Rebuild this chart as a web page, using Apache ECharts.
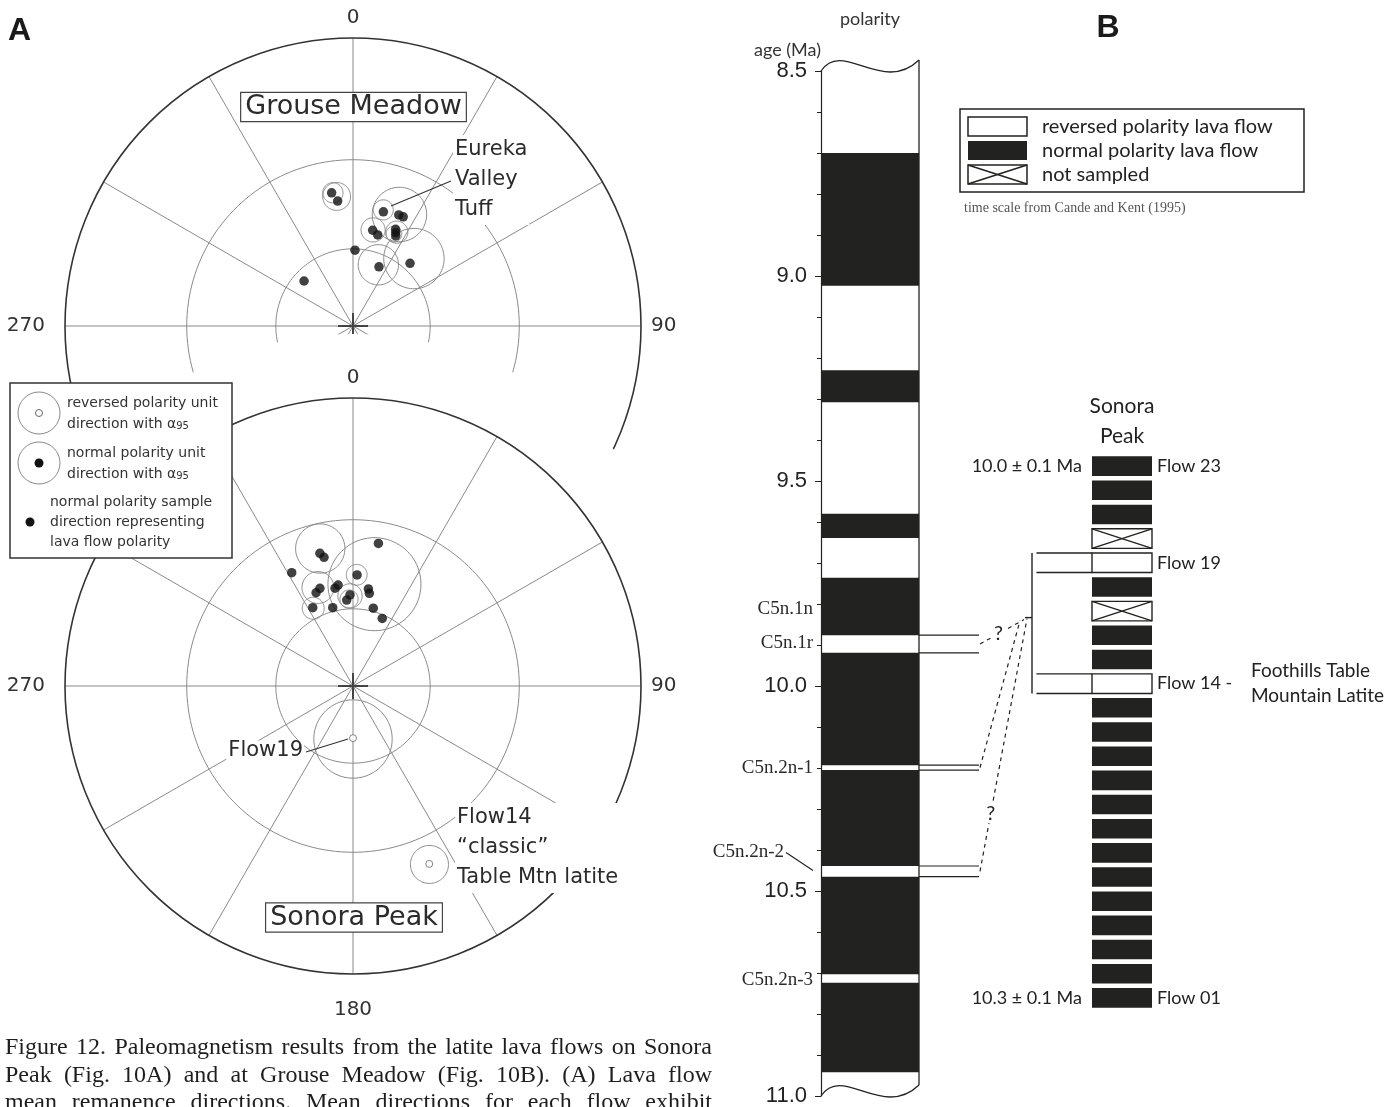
<!DOCTYPE html>
<html>
<head>
<meta charset="utf-8">
<title>Figure 12 – Paleomagnetism of latite lava flows</title>
<script src="https://cdn.jsdelivr.net/npm/echarts@6/dist/echarts.min.js"></script>
<style>
  html, body { margin: 0; padding: 0; background: #fff; }
  #main { width: 1397px; height: 1107px; }
</style>
</head>
<body>
<div id="main"></div>
<script>
// ---------------------------------------------------------------------------
// Panel A – remanence directions, [declination, inclination] in degrees
// (negative inclination = upper hemisphere / reversed polarity)
// ---------------------------------------------------------------------------
const GROUSE_DOTS = [
  [350.9, 39.8], [353.0, 42.8], [14.9, 45.4], [22.4, 44.7], [24.7, 44.7],
  [11.6, 52.5], [15.2, 53.7], [23.8, 49.7], [24.6, 50.8], [25.4, 51.8],
  [1.5, 60.5], [23.7, 64.7], [42.3, 57.2], [312.6, 64.0]
];
// [declination, inclination, alpha95]
const GROUSE_CIRCLES = [
  [351.4, 39.9, 3.3], [352.8, 41.3, 4.6], [22.6, 44.8, 9.2], [14.6, 44.8, 3.4],
  [11.8, 52.4, 4.3], [25.0, 50.5, 3.9], [24.0, 51.5, 2.8], [22.5, 64.2, 7.6],
  [42.1, 55.3, 10.9]
];
const SONORA_DOTS = [
  [10.1, 36.6], [346.0, 39.2], [347.3, 40.8], [331.6, 41.8], [2.1, 47.8],
  [351.6, 51.0], [349.6, 51.9], [341.3, 50.6], [338.4, 51.6], [9.0, 52.3],
  [10.0, 53.8], [358.1, 54.9], [355.8, 56.7], [332.8, 56.0], [345.5, 58.6],
  [14.6, 58.8], [23.4, 61.3]
];
const SONORA_CIRCLES = [
  [346.6, 38.0, 7.9], [11.9, 51.1, 16.3], [1.9, 47.8, 3.6], [340.4, 50.2, 5.6],
  [332.9, 56.3, 4.0], [358.1, 55.3, 4.4], [357.4, 56.4, 3.3]
];
const SONORA_REVERSED_DOTS = [[180.0, -69.5], [156.8, -22.2]];
const SONORA_REVERSED_CIRCLES = [[180.0, -69.5, 15.0], [156.8, -22.2, 5.2]];
const NET_RING_INCLINATIONS = [60, 30];
const COMPASS_LABELS = { 0: '0', 90: '90', 180: '180', 270: '270' };

// ---------------------------------------------------------------------------
// Panel B – geomagnetic polarity time scale (Ma) and Sonora Peak flow stack
// ---------------------------------------------------------------------------
const AGE_TICKS = [8.5, 9.0, 9.5, 10.0, 10.5, 11.0];
const NORMAL_CHRONS = [
  [8.700, 9.024], [9.230, 9.308], [9.580, 9.639], [9.736, 9.876],
  [9.919, 10.193], [10.205, 10.439], [10.465, 10.703], [10.724, 10.942]
];
const CHRON_NAMES = ['C5n.1n', 'C5n.1r', 'C5n.2n-1', 'C5n.2n-2', 'C5n.2n-3'];
const CHRON_LABEL_AGES = [9.813, 9.894, 10.200, 10.406, 10.716];
const CHRON_LEADER_AGES = { 'C5n.2n-2': 10.450 };
const LINKED_REVERSALS = [[9.876, 9.919], [10.193, 10.205], [10.439, 10.465]];

const FLOW_NAMES = [
  'Flow 01', 'Flow 02', 'Flow 03', 'Flow 04', 'Flow 05', 'Flow 06', 'Flow 07', 'Flow 08',
  'Flow 09', 'Flow 10', 'Flow 11', 'Flow 12', 'Flow 13', 'Flow 14', 'Flow 15', 'Flow 16',
  'Flow 17', 'Flow 18', 'Flow 19', 'Flow 20', 'Flow 21', 'Flow 22', 'Flow 23'
];
// N = normal, R = reversed, X = not sampled
const FLOW_POLARITY = [
  'N', 'N', 'N', 'N', 'N', 'N', 'N', 'N', 'N', 'N', 'N', 'N', 'N',
  'R', 'N', 'N', 'X', 'N', 'R', 'X', 'N', 'N', 'N'
];
const FLOW_LABELS = { 'Flow 23': 'Flow 23', 'Flow 19': 'Flow 19', 'Flow 14': 'Flow 14 -', 'Flow 01': 'Flow 01' };
const FLOW_AGES = { 'Flow 23': '10.0 ± 0.1 Ma', 'Flow 01': '10.3 ± 0.1 Ma' };
const FLOW_NOTES = { 'Flow 14': 'Foothills Table\nMountain Latite' };

const CAPTION_LINES = [
  'Figure 12. Paleomagnetism results from the latite lava flows on Sonora',
  'Peak (Fig. 10A) and at Grouse Meadow (Fig. 10B). (A) Lava flow',
  'mean remanence directions. Mean directions for each flow exhibit'
];

// ---------------------------------------------------------------------------
// Layout and style
// ---------------------------------------------------------------------------
const NET_RADIUS = 288;
const UPPER_CENTER = [353, 326];
const LOWER_CENTER = [353, 686];
const LOWER_CLEAR_RADIUS = 352;         // white backing behind the lower net
const INK = '#222320';
const GRID_GREY = '#8a8a8a';
const SANS_A = '"DejaVu Sans", sans-serif';
const SANS_B = 'Lato, "Noto Sans", sans-serif';
const SERIF = '"Liberation Serif", "Times New Roman", serif';
const EXT = 60 / 98;                     // reversal tie-line length, in column widths
const BLOCK_FILL = 0.81;                 // block height as share of each flow slot

// ---------------------------------------------------------------------------
// Stereographic (equal-angle) projection helpers
// ---------------------------------------------------------------------------
const D2R = Math.PI / 180;
function projRadius(inc) {
  return Math.tan((90 - Math.abs(inc)) / 2 * D2R);
}
function smallCircle(dec, inc, a95, n) {
  const I = Math.abs(inc) * D2R, D = dec * D2R, a = a95 * D2R;
  const m = [Math.cos(I) * Math.cos(D), Math.cos(I) * Math.sin(D), Math.sin(I)];
  const u = [-Math.sin(D), Math.cos(D), 0];
  const v = [m[1] * u[2] - m[2] * u[1], m[2] * u[0] - m[0] * u[2], m[0] * u[1] - m[1] * u[0]];
  const pts = [];
  for (let k = 0; k <= n; k++) {
    const t = 2 * Math.PI * k / n;
    const p = [0, 1, 2].map(j => m[j] * Math.cos(a) + (u[j] * Math.cos(t) + v[j] * Math.sin(t)) * Math.sin(a));
    const pInc = Math.asin(Math.max(-1, Math.min(1, p[2]))) / D2R;
    const pDec = (Math.atan2(p[1], p[0]) / D2R + 360) % 360;
    pts.push([projRadius(pInc), pDec]);
  }
  return pts;
}

// ---------------------------------------------------------------------------
// Series builders for one stereonet
// ---------------------------------------------------------------------------
function ringSeries(polarIndex, z) {
  return NET_RING_INCLINATIONS.map(inc => {
    const r = projRadius(inc);
    const data = [];
    for (let a = 0; a <= 360; a += 2) data.push([r, a]);
    return {
      type: 'line', coordinateSystem: 'polar', polarIndex, data, z,
      symbol: 'none', silent: true, smooth: false,
      lineStyle: { color: GRID_GREY, width: 1 }
    };
  });
}
function circleSeries(polarIndex, circles, z) {
  return {
    type: 'custom', coordinateSystem: 'polar', polarIndex, z, silent: true,
    encode: { radius: 0, angle: 1 },
    data: circles.map(c => [projRadius(c[1]), c[0], c[2], c[1]]),
    renderItem(params, api) {
      const dec = api.value(1), a95 = api.value(2), inc = api.value(3);
      const pts = smallCircle(dec, inc, a95, 96).map(p => api.coord(p));
      return {
        type: 'polyline', shape: { points: pts },
        style: { stroke: GRID_GREY, fill: null, lineWidth: 1 }
      };
    }
  };
}
function dotSeries(polarIndex, dots, z, open) {
  return {
    type: 'scatter', coordinateSystem: 'polar', polarIndex, z, silent: true,
    data: dots.map(d => [projRadius(d[1]), d[0]]),
    symbol: 'circle', symbolSize: open ? 7 : 9.5,
    itemStyle: open
      ? { color: '#fff', borderColor: '#666', borderWidth: 1 }
      : { color: '#121212' }
  };
}
function centreMarkSeries(polarIndex, z) {
  return {
    type: 'custom', coordinateSystem: 'polar', polarIndex, z, silent: true,
    encode: { radius: 0, angle: 1 },
    data: [[0, 0]],
    renderItem(params, api) {
      const c = api.coord([0, 0]);
      const st = { stroke: '#444', lineWidth: 2 };
      return {
        type: 'group', children: [
          { type: 'line', shape: { x1: c[0] - 15, y1: c[1], x2: c[0] + 15, y2: c[1] }, style: st },
          { type: 'line', shape: { x1: c[0], y1: c[1] - 13, x2: c[0], y2: c[1] + 13 }, style: st }
        ]
      };
    }
  };
}
function angleAxis(polarIndex, z, labels) {
  return {
    polarIndex, z, type: 'value', min: 0, max: 360, interval: 30,
    startAngle: 90, clockwise: true,
    axisLine: { show: true, lineStyle: { color: '#333', width: 1.6 } },
    axisTick: { show: false },
    splitLine: { show: true, lineStyle: { color: GRID_GREY, width: 1 } },
    axisLabel: {
      show: true, margin: 10, fontSize: 20, fontFamily: SANS_A, color: '#333',
      formatter: v => (labels[v] !== undefined ? '{' + ({ 0: 'n', 90: 'e', 180: 's', 270: 'w' })[v] + '|' + labels[v] + '}' : ''),
      rich: { n: {}, e: {}, s: { padding: [16, 0, 0, 0] }, w: { padding: [0, 10, 0, 0] } }
    }
  };
}
function radiusAxis(polarIndex) {
  return { polarIndex, type: 'value', min: 0, max: 1, show: false };
}

const upperLabels = { 0: COMPASS_LABELS[0], 90: COMPASS_LABELS[90], 270: COMPASS_LABELS[270] };

// ---------------------------------------------------------------------------
// Panel B series
// ---------------------------------------------------------------------------
const AGE_MIN = AGE_TICKS[0], AGE_MAX = AGE_TICKS[AGE_TICKS.length - 1];

const chronSeries = {
  type: 'custom', xAxisIndex: 0, yAxisIndex: 0, z: 2, silent: true,
  encode: { x: [0, 2], y: [1, 3] },
  data: NORMAL_CHRONS.map(c => [0, c[0], 1, c[1]]),
  renderItem(params, api) {
    const p0 = api.coord([0, api.value(1)]), p1 = api.coord([1, api.value(3)]);
    return {
      type: 'rect',
      shape: { x: p0[0], y: p0[1], width: p1[0] - p0[0], height: p1[1] - p0[1] },
      style: { fill: INK }
    };
  }
};
const columnOutlineSeries = {
  type: 'custom', xAxisIndex: 0, yAxisIndex: 0, z: 3, silent: true,
  encode: { x: 0, y: 1 },
  data: [[0, AGE_MIN]],
  renderItem(params, api) {
    const tl = api.coord([0, AGE_MIN]), tr = api.coord([1, AGE_MIN]);
    const bl = api.coord([0, AGE_MAX]), br = api.coord([1, AGE_MAX]);
    const w = tr[0] - tl[0];
    const st = { stroke: INK, fill: null, lineWidth: 1.3 };
    const wave = (p0, p1) => ({
      type: 'bezierCurve',
      shape: {
        x1: p0[0], y1: p0[1], x2: p1[0], y2: p1[1] - 11,
        cpx1: p0[0] + 0.22 * w, cpy1: p0[1] - 32, cpx2: p0[0] + 0.63 * w, cpy2: p0[1] + 24
      },
      style: st
    });
    return {
      type: 'group', children: [
        wave(tl, tr), wave(bl, br),
        { type: 'line', shape: { x1: tr[0], y1: tr[1] - 11, x2: br[0], y2: br[1] - 11 }, style: st }
      ]
    };
  }
};
const tieLineSeries = {
  type: 'custom', xAxisIndex: 0, yAxisIndex: 0, z: 3, silent: true,
  encode: { x: 0, y: 1 },
  data: LINKED_REVERSALS.map(r => [1, r[0], r[1]]),
  renderItem(params, api) {
    const st = { stroke: INK, lineWidth: 1.2 };
    const kids = [1, 2].map(k => {
      const a = api.coord([1, api.value(k)]), b = api.coord([1 + EXT, api.value(k)]);
      return { type: 'line', shape: { x1: a[0], y1: a[1], x2: b[0], y2: b[1] }, style: st };
    });
    return { type: 'group', children: kids };
  }
};
const chronLabelSeries = {
  type: 'custom', xAxisIndex: 0, yAxisIndex: 0, z: 4, silent: true,
  encode: { x: 0, y: 1 },
  data: CHRON_LABEL_AGES.map(a => [0, a]),
  renderItem(params, api) {
    const name = CHRON_NAMES[params.dataIndex];
    const p = api.coord([0, api.value(1)]);
    const kids = [];
    const leaderAge = CHRON_LEADER_AGES[name];
    const dx = leaderAge !== undefined ? 37 : 8;
    kids.push({
      type: 'text',
      style: { text: name, x: p[0] - dx, y: p[1], align: 'right', verticalAlign: 'middle', font: '19px ' + SERIF, fill: '#2a2a2a' }
    });
    if (leaderAge !== undefined) {
      const q = api.coord([0, leaderAge]);
      kids.push({ type: 'line', shape: { x1: p[0] - dx + 2, y1: p[1], x2: q[0] - 8, y2: q[1] }, style: { stroke: INK, lineWidth: 1.2 } });
    }
    return { type: 'group', children: kids };
  }
};

const flowSeries = {
  type: 'custom', xAxisIndex: 1, yAxisIndex: 1, z: 3, silent: true,
  encode: { x: 0, y: 1 },
  data: FLOW_POLARITY.map((p, i) => [0, i]),
  renderItem(params, api) {
    const idx = api.value(1);
    const kind = FLOW_POLARITY[idx];
    const l = api.coord([0, idx]), r = api.coord([1, idx]);
    const h = api.size([0, 1])[1] * BLOCK_FILL;
    const y0 = l[1] - h / 2, x0 = l[0], x1 = r[0];
    const st = { stroke: INK, lineWidth: 1.4, fill: '#fff' };
    const kids = [];
    if (kind === 'N') {
      kids.push({ type: 'rect', shape: { x: x0, y: y0, width: x1 - x0, height: h }, style: { fill: INK } });
    } else {
      kids.push({ type: 'rect', shape: { x: x0, y: y0, width: x1 - x0, height: h }, style: st });
      if (kind === 'X') {
        kids.push({ type: 'line', shape: { x1: x0, y1: y0, x2: x1, y2: y0 + h }, style: st });
        kids.push({ type: 'line', shape: { x1: x0, y1: y0 + h, x2: x1, y2: y0 }, style: st });
      } else {
        const xe = api.coord([-0.926, idx])[0];
        kids.push({ type: 'line', shape: { x1: xe, y1: y0, x2: x0, y2: y0 }, style: st });
        kids.push({ type: 'line', shape: { x1: xe, y1: y0 + h, x2: x0, y2: y0 + h }, style: st });
      }
    }
    const note = FLOW_NOTES[FLOW_NAMES[idx]];
    if (note) {
      kids.push({
        type: 'text',
        style: { text: note, x: x1 + 99, y: l[1], align: 'left', verticalAlign: 'middle', font: '19px ' + SANS_B, fill: '#222', lineHeight: 25 }
      });
    }
    return { type: 'group', children: kids };
  }
};
const reversedIdx = FLOW_POLARITY.map((p, i) => (p === 'R' ? i : -1)).filter(i => i >= 0);
const bracketSeries = {
  type: 'custom', xAxisIndex: 1, yAxisIndex: 1, z: 3, silent: true,
  encode: { x: 0, y: 1 },
  data: [[-1, Math.max(...reversedIdx), Math.min(...reversedIdx)]],
  renderItem(params, api) {
    const h = api.size([0, 1])[1] * BLOCK_FILL;
    const top = api.coord([-1, api.value(1)]), bot = api.coord([-1, api.value(2)]);
    const yT = top[1] - h / 2, yB = bot[1] + h / 2, x = top[0];
    const yTick = yT + 0.46 * (yB - yT);
    const st = { stroke: INK, lineWidth: 1.4 };
    return {
      type: 'group', children: [
        { type: 'line', shape: { x1: x, y1: yT, x2: x, y2: yB }, style: st },
        { type: 'line', shape: { x1: x - 7, y1: yTick, x2: x, y2: yTick }, style: st }
      ]
    };
  }
};

// ---------------------------------------------------------------------------
// Option
// ---------------------------------------------------------------------------
const option = {
  animation: false,
  backgroundColor: '#fff',
  textStyle: { fontFamily: SANS_B },
  polar: [
    { center: UPPER_CENTER, radius: NET_RADIUS },
    { center: LOWER_CENTER, radius: NET_RADIUS }
  ],
  angleAxis: [angleAxis(0, 0, upperLabels), angleAxis(1, 6, COMPASS_LABELS)],
  radiusAxis: [radiusAxis(0), radiusAxis(1)],
  grid: [
    { left: 821, top: 71, width: 98, height: 1026 },
    { left: 1092, top: 454, width: 60, height: 556 }
  ],
  xAxis: [
    {
      gridIndex: 0, type: 'value', min: 0, max: 1, position: 'top',
      axisLine: { show: false }, axisTick: { show: false }, axisLabel: { show: false }, splitLine: { show: false },
      name: 'polarity', nameLocation: 'middle', nameGap: 43,
      nameTextStyle: { fontFamily: SANS_B, fontSize: 18, color: '#333' }
    },
    {
      gridIndex: 1, type: 'value', min: 0, max: 1, position: 'top',
      axisLine: { show: false }, axisTick: { show: false }, axisLabel: { show: false }, splitLine: { show: false },
      name: 'Sonora\nPeak', nameLocation: 'middle', nameGap: 3,
      nameTextStyle: { fontFamily: SANS_B, fontSize: 21, lineHeight: 30, color: '#222' }
    }
  ],
  yAxis: [
    {
      gridIndex: 0, type: 'value', min: AGE_MIN, max: AGE_MAX, interval: 0.5, inverse: true,
      axisLine: { show: true, lineStyle: { color: INK, width: 1.2 } },
      axisTick: { show: true, length: 6, lineStyle: { color: INK } },
      minorTick: { show: true, splitNumber: 5, length: 4, lineStyle: { color: INK } },
      splitLine: { show: false }, minorSplitLine: { show: false },
      axisLabel: { fontSize: 22, fontFamily: '"Liberation Sans", Arial, sans-serif', color: '#222', margin: 14, formatter: v => v.toFixed(1) },
      name: 'age (Ma)', nameLocation: 'start', nameGap: 12,
      nameTextStyle: { fontFamily: SANS_B, fontSize: 18, color: '#333', align: 'right' }
    },
    {
      gridIndex: 1, type: 'category', data: FLOW_NAMES, position: 'right',
      axisLine: { show: false }, axisTick: { show: false }, splitLine: { show: false },
      axisLabel: { interval: 0, margin: 5, fontFamily: SANS_B, fontSize: 18, color: '#222', formatter: v => FLOW_LABELS[v] || '' }
    },
    {
      gridIndex: 1, type: 'category', data: FLOW_NAMES, position: 'left',
      axisLine: { show: false }, axisTick: { show: false }, splitLine: { show: false },
      axisLabel: { interval: 0, margin: 10, fontFamily: SANS_B, fontSize: 18, color: '#222', formatter: v => FLOW_AGES[v] || '' }
    }
  ],
  series: [
    // upper net (Grouse Meadow)
    ...ringSeries(0, 1),
    circleSeries(0, GROUSE_CIRCLES, 2),
    dotSeries(0, GROUSE_DOTS, 3, false),
    centreMarkSeries(0, 3),
    // lower net (Sonora Peak)
    ...ringSeries(1, 7),
    circleSeries(1, SONORA_CIRCLES, 8),
    circleSeries(1, SONORA_REVERSED_CIRCLES, 8),
    dotSeries(1, SONORA_DOTS, 9, false),
    dotSeries(1, SONORA_REVERSED_DOTS, 9, true),
    centreMarkSeries(1, 9),
    // polarity column
    chronSeries, columnOutlineSeries, tieLineSeries, chronLabelSeries,
    // Sonora Peak flow stack
    flowSeries, bracketSeries
  ]
};

const chart = echarts.init(document.getElementById('main'), null, { renderer: 'canvas' });
chart.setOption(option);

// ---------------------------------------------------------------------------
// Annotations, legends, caption
// ---------------------------------------------------------------------------
const g = [];
// white backing that separates the lower net from the upper one
g.push({ type: 'circle', z: 5, silent: true, shape: { cx: LOWER_CENTER[0], cy: LOWER_CENTER[1], r: LOWER_CLEAR_RADIUS }, style: { fill: '#fff' } });

function label(text, x, y, opts) {
  return {
    type: 'text', z: 20, silent: true,
    style: Object.assign({ text, x, y, font: '21px ' + SANS_A, fill: '#2b2b2b', verticalAlign: 'middle', align: 'left' }, opts || {})
  };
}
function seg(x1, y1, x2, y2, stroke, lw, z, dash) {
  return { type: 'line', z: z || 21, silent: true, shape: { x1, y1, x2, y2 }, style: { stroke: stroke || '#333', lineWidth: lw || 1.2, lineDash: dash || null } };
}

g.push(label('Grouse Meadow', 353.5, 107, { font: '27px ' + SANS_A, align: 'center', backgroundColor: '#fff', borderColor: '#444', borderWidth: 1.2, padding: [1, 4, 0, 4] }));
g.push(label('Sonora Peak', 354, 917.5, { font: '27px ' + SANS_A, align: 'center', backgroundColor: '#fff', borderColor: '#444', borderWidth: 1.2, padding: [1, 4, 0, 4] }));
g.push(label('Eureka\nValley\nTuff', 453, 180, { lineHeight: 30, backgroundColor: '#fff', padding: [0, 2, 0, 2] }));
g.push(seg(451, 181, 391, 206));
g.push(label('Flow19', 304, 751, { align: 'right', backgroundColor: '#fff', padding: [0, 1, 0, 2] }));
g.push(seg(306, 752, 348, 739));
g.push(label('Flow14\n\u201Cclassic\u201D\nTable Mtn latite', 455, 848, { lineHeight: 30, backgroundColor: '#fff', padding: [0, 2, 0, 2] }));

// panel letters
g.push(label('A', 8, 31, { font: 'bold 32px "Liberation Sans", Arial, sans-serif', fill: '#1a1a1a' }));
g.push(label('B', 1108, 28, { font: 'bold 32px "Liberation Sans", Arial, sans-serif', fill: '#1a1a1a', align: 'center' }));

// legend, panel A
const legA = { type: 'group', z: 30, silent: true, children: [] };
legA.children.push({ type: 'rect', z: 30, shape: { x: 10, y: 383, width: 222, height: 175 }, style: { fill: '#fff', stroke: '#333', lineWidth: 1.5 } });
legA.children.push({ type: 'circle', z: 31, shape: { cx: 39, cy: 413, r: 21 }, style: { fill: null, stroke: GRID_GREY, lineWidth: 1 } });
legA.children.push({ type: 'circle', z: 31, shape: { cx: 39, cy: 413, r: 3.5 }, style: { fill: '#fff', stroke: '#666', lineWidth: 1 } });
legA.children.push({ type: 'circle', z: 31, shape: { cx: 39, cy: 463, r: 21 }, style: { fill: null, stroke: GRID_GREY, lineWidth: 1 } });
legA.children.push({ type: 'circle', z: 31, shape: { cx: 39, cy: 463, r: 4.5 }, style: { fill: '#121212' } });
legA.children.push({ type: 'circle', z: 31, shape: { cx: 30, cy: 522, r: 4.5 }, style: { fill: '#121212' } });
const legAStyle = { font: '14px ' + SANS_A, fill: '#333', verticalAlign: 'middle', align: 'left' };
const alphaRich = { s: { fontSize: 10, fontFamily: 'DejaVu Sans', fill: '#333', verticalAlign: 'bottom', padding: [5, 0, 0, 0] } };
[
  ['reversed polarity unit', 67, 403], ['direction with \u03B1{s|95}', 67, 424],
  ['normal polarity unit', 67, 453], ['direction with \u03B1{s|95}', 67, 474],
  ['normal polarity sample', 50, 502], ['direction representing', 50, 522], ['lava flow polarity', 50, 542]
].forEach(t => legA.children.push({ type: 'text', z: 31, style: Object.assign({ text: t[0], x: t[1], y: t[2], rich: alphaRich }, legAStyle) }));
g.push(legA);

// legend, panel B
const legB = { type: 'group', z: 30, silent: true, children: [] };
legB.children.push({ type: 'rect', z: 30, shape: { x: 960, y: 109, width: 344, height: 83 }, style: { fill: '#fff', stroke: INK, lineWidth: 1.5 } });
const swatchSt = { fill: '#fff', stroke: INK, lineWidth: 1.5 };
legB.children.push({ type: 'rect', z: 31, shape: { x: 968, y: 117, width: 59, height: 19 }, style: swatchSt });
legB.children.push({ type: 'rect', z: 31, shape: { x: 968, y: 141, width: 59, height: 19 }, style: { fill: INK } });
legB.children.push({ type: 'rect', z: 31, shape: { x: 968, y: 165, width: 59, height: 19 }, style: swatchSt });
legB.children.push({ type: 'line', z: 32, shape: { x1: 968, y1: 165, x2: 1027, y2: 184 }, style: swatchSt });
legB.children.push({ type: 'line', z: 32, shape: { x1: 968, y1: 184, x2: 1027, y2: 165 }, style: swatchSt });
[['reversed polarity lava flow', 126.5], ['normal polarity lava flow', 150.5], ['not sampled', 174.5]].forEach(t =>
  legB.children.push({ type: 'text', z: 31, style: { text: t[0], x: 1042, y: t[1], font: '20px ' + SANS_B, fill: '#222', verticalAlign: 'middle' } }));
g.push(legB);
g.push(label('time scale from Cande and Kent (1995)', 964, 208, { font: '14px ' + SERIF, fill: '#555' }));

// correlation lines between the reversed flows and candidate chrons
const flowBand = chart.convertToPixel({ yAxisIndex: 1 }, 1) - chart.convertToPixel({ yAxisIndex: 1 }, 0);
const hB = Math.abs(flowBand) * BLOCK_FILL;
const bx = chart.convertToPixel({ xAxisIndex: 1 }, -1);
const yTop = chart.convertToPixel({ yAxisIndex: 1 }, Math.max(...reversedIdx)) - hB / 2;
const yBot = chart.convertToPixel({ yAxisIndex: 1 }, Math.min(...reversedIdx)) + hB / 2;
const tick = [bx - 7, yTop + 0.46 * (yBot - yTop)];
const starts = [[tick[0] - 1, tick[1] + 2], [tick[0] - 5, tick[1] + 3], [tick[0] + 2, tick[1] + 1]];
const qMarks = [0.42, null, 0.23];
LINKED_REVERSALS.forEach((r, i) => {
  const end = chart.convertToPixel({ gridIndex: 0 }, [1 + EXT, (r[0] + r[1]) / 2]);
  end[0] += 1;
  g.push(seg(end[0], end[1], starts[i][0], starts[i][1], INK, 1.2, 21, [4, 4]));
  if (qMarks[i] !== null) {
    const t = qMarks[i];
    const qx = end[0] + t * (starts[i][0] - end[0]), qy = end[1] + t * (starts[i][1] - end[1]);
    g.push({
      type: 'text', z: 22, silent: true,
      style: { text: '?', x: qx, y: qy, font: '20px ' + SANS_B, fill: '#222', align: 'center', verticalAlign: 'middle', backgroundColor: '#fff', padding: [0, 2, 0, 2] }
    });
  }
});

// caption, justified between the left and right margins
const CAPTION_FONT = '24px ' + SERIF;
const CAPTION_LEFT = 5, CAPTION_RIGHT = 712;
const mctx = document.createElement('canvas').getContext('2d');
mctx.font = CAPTION_FONT;
CAPTION_LINES.forEach((line, li) => {
  const words = line.split(' ');
  const widths = words.map(w => mctx.measureText(w).width);
  const total = widths.reduce((a, b) => a + b, 0);
  const gap = (CAPTION_RIGHT - CAPTION_LEFT - total) / (words.length - 1);
  let x = CAPTION_LEFT;
  const y = 1048 + li * 27.5;
  words.forEach((w, i) => {
    g.push({ type: 'text', z: 30, silent: true, style: { text: w, x, y, font: CAPTION_FONT, fill: '#1e1e1e', verticalAlign: 'middle' } });
    x += widths[i] + gap;
  });
});

chart.setOption({ graphic: { elements: g } });
</script>
</body>
</html>
